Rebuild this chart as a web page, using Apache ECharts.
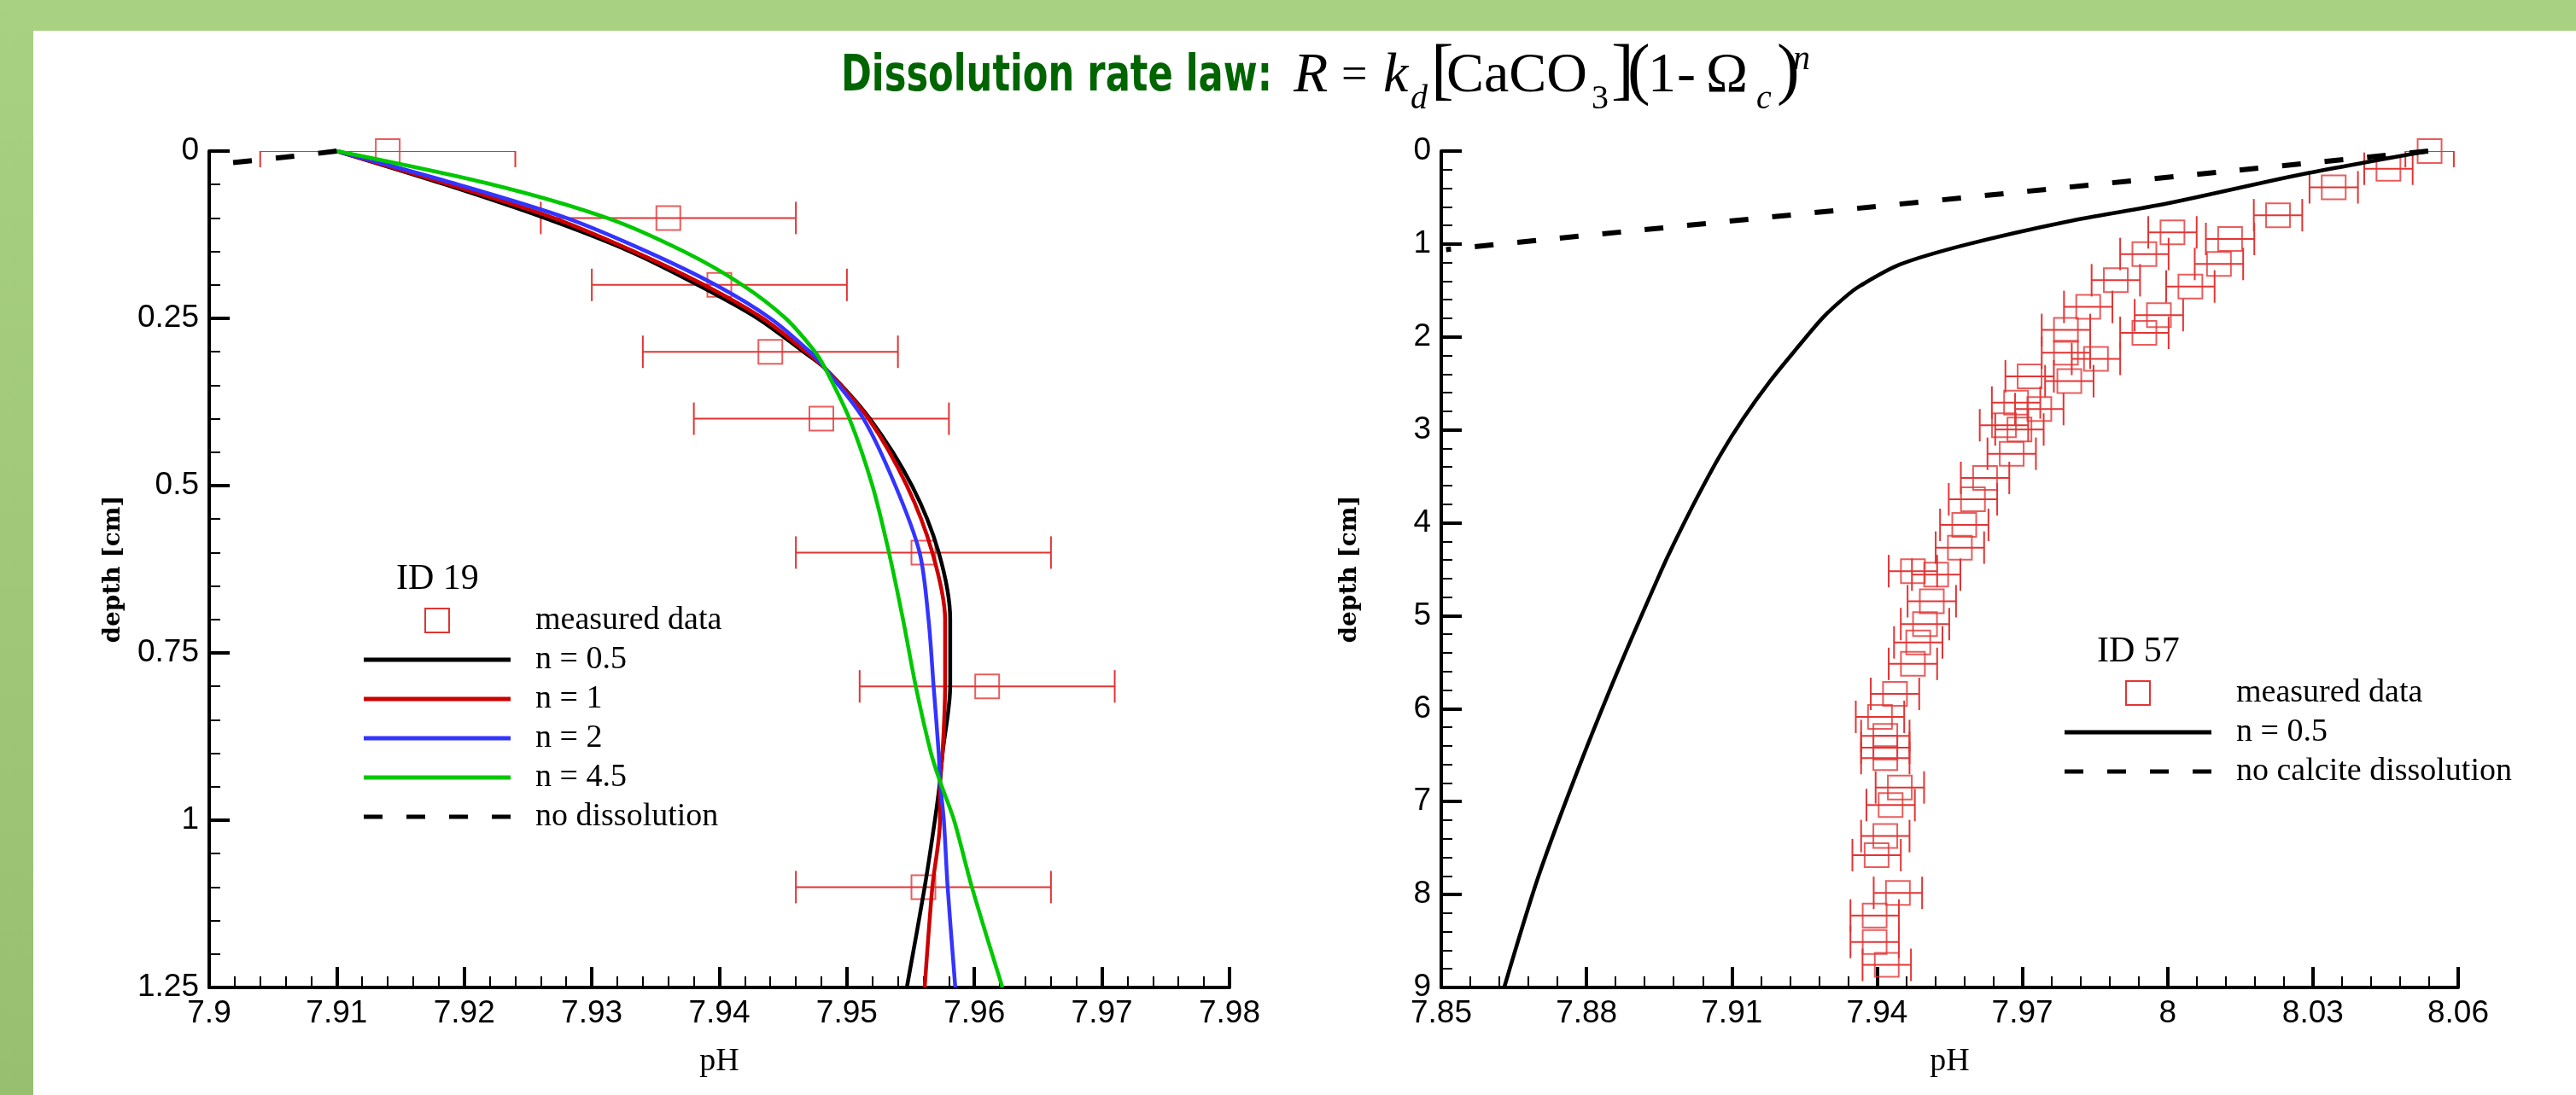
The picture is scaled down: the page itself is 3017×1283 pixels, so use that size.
<!DOCTYPE html>
<html>
<head>
<meta charset="utf-8">
<title>Dissolution rate law</title>
<script src="https://cdn.jsdelivr.net/npm/echarts@6.0.0/dist/echarts.min.js"></script>
<style>
    html, body { margin: 0; padding: 0; background: #fff; }
    #chart { width: 3017px; height: 1283px; }
</style>
</head>
<body>
<div id="chart"></div>
<script>
// ---- ID 19 (left panel) ----
var id19Depth = [0, 0.1, 0.2, 0.3, 0.4, 0.6, 0.8, 1.1];
var id19PH = [7.914, 7.936, 7.940, 7.944, 7.948, 7.956, 7.961, 7.956];
var id19Err = 0.01;

var modelDepth = [0, 0.05, 0.1, 0.15, 0.2, 0.25, 0.3, 0.325, 0.4, 0.5, 0.6, 0.7, 0.8, 0.9, 0.942, 1.0, 1.1, 1.25];
var modelN05 = [7.91, 7.9185, 7.9263, 7.9330, 7.9383, 7.9430, 7.9466, 7.9483, 7.9518, 7.9551, 7.9572, 7.9581, 7.9581, 7.9575, 7.9573, 7.9569, 7.9561, 7.9547];
var modelN1 = [7.91, 7.9188, 7.9270, 7.9333, 7.9388, 7.9434, 7.9468, 7.9483, 7.9517, 7.9547, 7.9567, 7.9577, 7.9577, 7.9575, 7.9573, 7.9573, 7.9567, 7.9561];
var modelN2 = [7.91, 7.9195, 7.9280, 7.9343, 7.9397, 7.9440, 7.9471, 7.9483, 7.9513, 7.9538, 7.9557, 7.9564, 7.9568, 7.9572, 7.9573, 7.9576, 7.9579, 7.9585];
var modelN45 = [7.91, 7.9222, 7.9312, 7.9372, 7.9418, 7.9452, 7.9475, 7.9483, 7.9502, 7.9520, 7.9533, 7.9544, 7.9554, 7.9566, 7.9573, 7.9584, 7.9598, 7.9622];

var noDissDepth = [0, 0.009, 0.0175];
var noDissPH = [7.91, 7.906, 7.9018];

// ---- ID 57 (right panel) ----
var id57Depth = [0, 0.19, 0.39, 0.69, 0.875, 0.946, 1.108, 1.215, 1.39, 1.457, 1.677, 1.766, 1.925, 1.956,
    2.17, 2.237, 2.424, 2.476, 2.706, 2.776, 2.95, 2.996, 3.257, 3.517, 3.747, 4.022, 4.267, 4.52, 4.558,
    4.844, 5.09, 5.287, 5.518, 5.841, 6.088, 6.294, 6.42, 6.532, 6.848, 7.037, 7.371, 7.576, 7.982, 8.226,
    8.511, 8.757];
var id57PH = [8.0541, 8.0456, 8.0343, 8.0228, 8.0010, 8.0129, 7.9952, 8.0106, 7.9893, 8.0047, 7.9836, 7.9982, 7.9790, 7.9952,
    7.9790, 7.9852, 7.9715, 7.9797, 7.9687, 7.9735, 7.9662, 7.9694, 7.9678, 7.9623, 7.9598, 7.9580, 7.9571, 7.9474, 7.9522,
    7.9513, 7.9499, 7.9485, 7.9474, 7.9437, 7.9406, 7.9417, 7.9417, 7.9417, 7.9447, 7.9428, 7.9417, 7.9399, 7.9443, 7.9395,
    7.9395, 7.9420];
var id57Err = 0.005;

var fitDepth = [0, 0.257, 0.563, 0.762, 1.007, 1.221, 1.45, 1.558, 1.787, 2.124, 2.476, 2.874, 3.272, 3.731, 4.25, 4.53, 5.5, 6.62, 7.8, 9];
var fitPH = [8.0538, 8.0271, 8.0000, 7.9790, 7.9584, 7.9447, 7.9365, 7.9337, 7.9289, 7.9234, 7.9179, 7.9124, 7.9076, 7.9028, 7.8978, 7.8953, 7.8872, 7.8785, 7.8701, 7.8630];

var noCalcDepth = [0, 1.06];
var noCalcPH = [8.0538, 7.851];

// axis ranges: [min, max, interval]
var leftPHAxis = [7.9, 7.98, 0.01];
var leftDepthAxis = [0, 1.25, 0.25];
var rightPHAxis = [7.85, 8.06, 0.03];
var rightDepthAxis = [0, 9, 1];

var RED = '#e23434';
var CAP = 19;
var DASH = [22, 28];
var SANS = '"Liberation Sans", Arial, sans-serif';
var SERIF = '"Liberation Serif", "Times New Roman", serif';

function zip(xs, ys) {
    var out = [];
    for (var i = 0; i < xs.length; i++) {
        out.push([xs[i], ys[i]]);
    }
    return out;
}

function phAxis(gridIndex, range) {
    return {
        type: 'value', gridIndex: gridIndex, position: 'bottom',
        min: range[0], max: range[1], interval: range[2],
        name: 'pH', nameLocation: 'middle', nameGap: 68,
        nameTextStyle: { fontFamily: SERIF, fontSize: 38, color: '#000' },
        axisLine: { show: true, onZero: false, lineStyle: { color: '#000', width: 4 } },
        axisTick: { show: true, inside: true, length: 24, lineStyle: { color: '#000', width: 4 } },
        minorTick: { show: true, splitNumber: 5, length: 13, lineStyle: { color: '#000', width: 2 } },
        splitLine: { show: false },
        minorSplitLine: { show: false },
        axisLabel: { fontFamily: SANS, fontSize: 37, color: '#000', margin: 12, showMinLabel: true, showMaxLabel: true }
    };
}

function depthAxis(gridIndex, range, nameGap) {
    return {
        type: 'value', gridIndex: gridIndex, position: 'left', inverse: true,
        min: range[0], max: range[1], interval: range[2],
        name: 'depth [cm]', nameLocation: 'middle', nameGap: nameGap,
        nameTextStyle: { fontFamily: '"DejaVu Serif", serif', fontSize: 28, fontWeight: 'bold', color: '#000' },
        axisLine: { show: true, onZero: false, lineStyle: { color: '#000', width: 4 } },
        axisTick: { show: true, inside: true, length: 24, lineStyle: { color: '#000', width: 4 } },
        minorTick: { show: true, splitNumber: 5, length: 13, lineStyle: { color: '#000', width: 2 } },
        splitLine: { show: false },
        minorSplitLine: { show: false },
        axisLabel: { fontFamily: SANS, fontSize: 37, color: '#000', margin: 12, showMinLabel: true, showMaxLabel: true }
    };
}

function errorBarRenderer(err) {
    return function (params, api) {
        var ph = api.value(0);
        var depth = api.value(1);
        var a = api.coord([ph - err, depth]);
        var b = api.coord([ph + err, depth]);
        var style = { stroke: RED, lineWidth: 2, fill: null };
        return {
            type: 'group',
            children: [
                { type: 'line', shape: { x1: a[0], y1: a[1], x2: b[0], y2: b[1] }, style: style },
                { type: 'line', shape: { x1: a[0], y1: a[1] - CAP, x2: a[0], y2: a[1] + CAP }, style: style },
                { type: 'line', shape: { x1: b[0], y1: b[1] - CAP, x2: b[0], y2: b[1] + CAP }, style: style }
            ]
        };
    };
}

function measured(idx, ph, depth, err) {
    var data = zip(ph, depth);
    return [{
        type: 'custom', name: 'measured data', xAxisIndex: idx, yAxisIndex: idx,
        clip: true, silent: true, data: data,
        renderItem: errorBarRenderer(err), z: 2
    }, {
        type: 'scatter', name: 'measured data', xAxisIndex: idx, yAxisIndex: idx,
        clip: false, silent: true, data: data,
        symbol: 'rect', symbolSize: 28,
        itemStyle: { color: 'rgba(0,0,0,0)', borderColor: RED, borderWidth: 2 },
        emphasis: { disabled: true }, z: 2
    }];
}

function curve(idx, name, ph, depth, color, dashed) {
    return {
        type: 'line', name: name, xAxisIndex: idx, yAxisIndex: idx,
        data: zip(ph, depth), smooth: 0.3, showSymbol: false, symbol: 'none',
        silent: true, z: 3,
        lineStyle: { color: color, width: dashed ? 6 : 4.5, type: dashed ? DASH : 'solid', cap: 'butt' }
    };
}

// legend drawn as graphic items, one per row
function legendBlock(x0, y0, title, rows) {
    var items = [{
        type: 'text', x: x0 + 38, y: y0 - 48,
        style: { text: title, font: '42px ' + SERIF, fill: '#000', verticalAlign: 'middle' }
    }];
    for (var i = 0; i < rows.length; i++) {
        var r = rows[i];
        var y = y0 + i * 46;
        if (r.box) {
            items.push({ type: 'rect', shape: { x: x0 + 86 - 14, y: y - 14, width: 28, height: 28 },
                style: { fill: null, stroke: RED, lineWidth: 2 } });
        } else {
            items.push({ type: 'line', shape: { x1: x0, y1: y, x2: x0 + 172, y2: y },
                style: { stroke: r.color, lineWidth: 5, lineDash: r.dashed ? DASH : null } });
        }
        items.push({ type: 'text', x: x0 + 201, y: y,
            style: { text: r.label, font: '38px ' + SERIF, fill: '#000', verticalAlign: 'middle' } });
    }
    return items;
}

// title: green label plus the rate-law formula pieces [text, left, middle, size, italic]
var formulaParts = [
    ['R', 1515, 90, 66, true], ['=', 1571, 90, 54, false], ['k', 1620, 90, 66, true], ['d', 1652, 116, 40, true],
    ['[', 1676, 86, 80, false], ['CaCO', 1694, 90, 66, false], ['3', 1864, 116, 40, false], [']', 1887, 86, 80, false],
    ['(', 1906, 86, 80, false], ['1', 1930, 90, 66, false], ['-', 1964, 90, 66, false], ['\u03a9', 1998, 90, 66, false],
    ['c', 2057, 116, 40, true], [')', 2081, 86, 80, false], ['n', 2100, 70, 40, true]
];

var graphics = [
    { type: 'rect', shape: { x: 0, y: 0, width: 3017, height: 36 }, style: { fill: '#a9d182' }, z: -10 },
    { type: 'rect', shape: { x: 0, y: 0, width: 39, height: 1283 }, z: -10,
        style: { fill: new echarts.graphic.LinearGradient(0, 0, 0, 1, [
            { offset: 0, color: '#a9d182' }, { offset: 1, color: '#97bf6f' }]) } },
    { type: 'text', x: 985, y: 91, scaleX: 0.745,
        style: { text: 'Dissolution rate law:', font: 'bold 58px "DejaVu Sans", sans-serif', fill: '#006400', verticalAlign: 'middle' } }
];
formulaParts.forEach(function (p) {
    graphics.push({ type: 'text', x: p[1], y: p[2],
        style: { text: p[0], font: (p[4] ? 'italic ' : '') + p[3] + 'px ' + SERIF, fill: '#000', verticalAlign: 'middle' } });
});
graphics = graphics.concat(legendBlock(426, 727, 'ID 19', [
    { box: true, label: 'measured data' },
    { color: '#000', label: 'n = 0.5' },
    { color: '#cc0000', label: 'n = 1' },
    { color: '#3434ff', label: 'n = 2' },
    { color: '#00c800', label: 'n = 4.5' },
    { color: '#000', dashed: true, label: 'no dissolution' }
]));
graphics = graphics.concat(legendBlock(2418, 812, 'ID 57', [
    { box: true, label: 'measured data' },
    { color: '#000', label: 'n = 0.5' },
    { color: '#000', dashed: true, label: 'no calcite dissolution' }
]));

var series = [].concat(
    measured(0, id19PH, id19Depth, id19Err),
    [
        curve(0, 'n = 0.5', modelN05, modelDepth, '#000'),
        curve(0, 'n = 1', modelN1, modelDepth, '#cc0000'),
        curve(0, 'n = 2', modelN2, modelDepth, '#3434ff'),
        curve(0, 'n = 4.5', modelN45, modelDepth, '#00c800'),
        curve(0, 'no dissolution', noDissPH, noDissDepth, '#000', true)
    ],
    measured(1, id57PH, id57Depth, id57Err),
    [
        curve(1, 'n = 0.5', fitPH, fitDepth, '#000'),
        curve(1, 'no calcite dissolution', noCalcPH, noCalcDepth, '#000', true)
    ]
);

var chart = echarts.init(document.getElementById('chart'));
chart.setOption({
    animation: false,
    backgroundColor: '#fff',
    grid: [
        { left: 245, top: 177, width: 1195, height: 980, containLabel: false },
        { left: 1688, top: 177, width: 1191, height: 980, containLabel: false }
    ],
    xAxis: [phAxis(0, leftPHAxis), phAxis(1, rightPHAxis)],
    yAxis: [depthAxis(0, leftDepthAxis, 98), depthAxis(1, rightDepthAxis, 93)],
    graphic: { elements: graphics },
    series: series
});
</script>
</body>
</html>
